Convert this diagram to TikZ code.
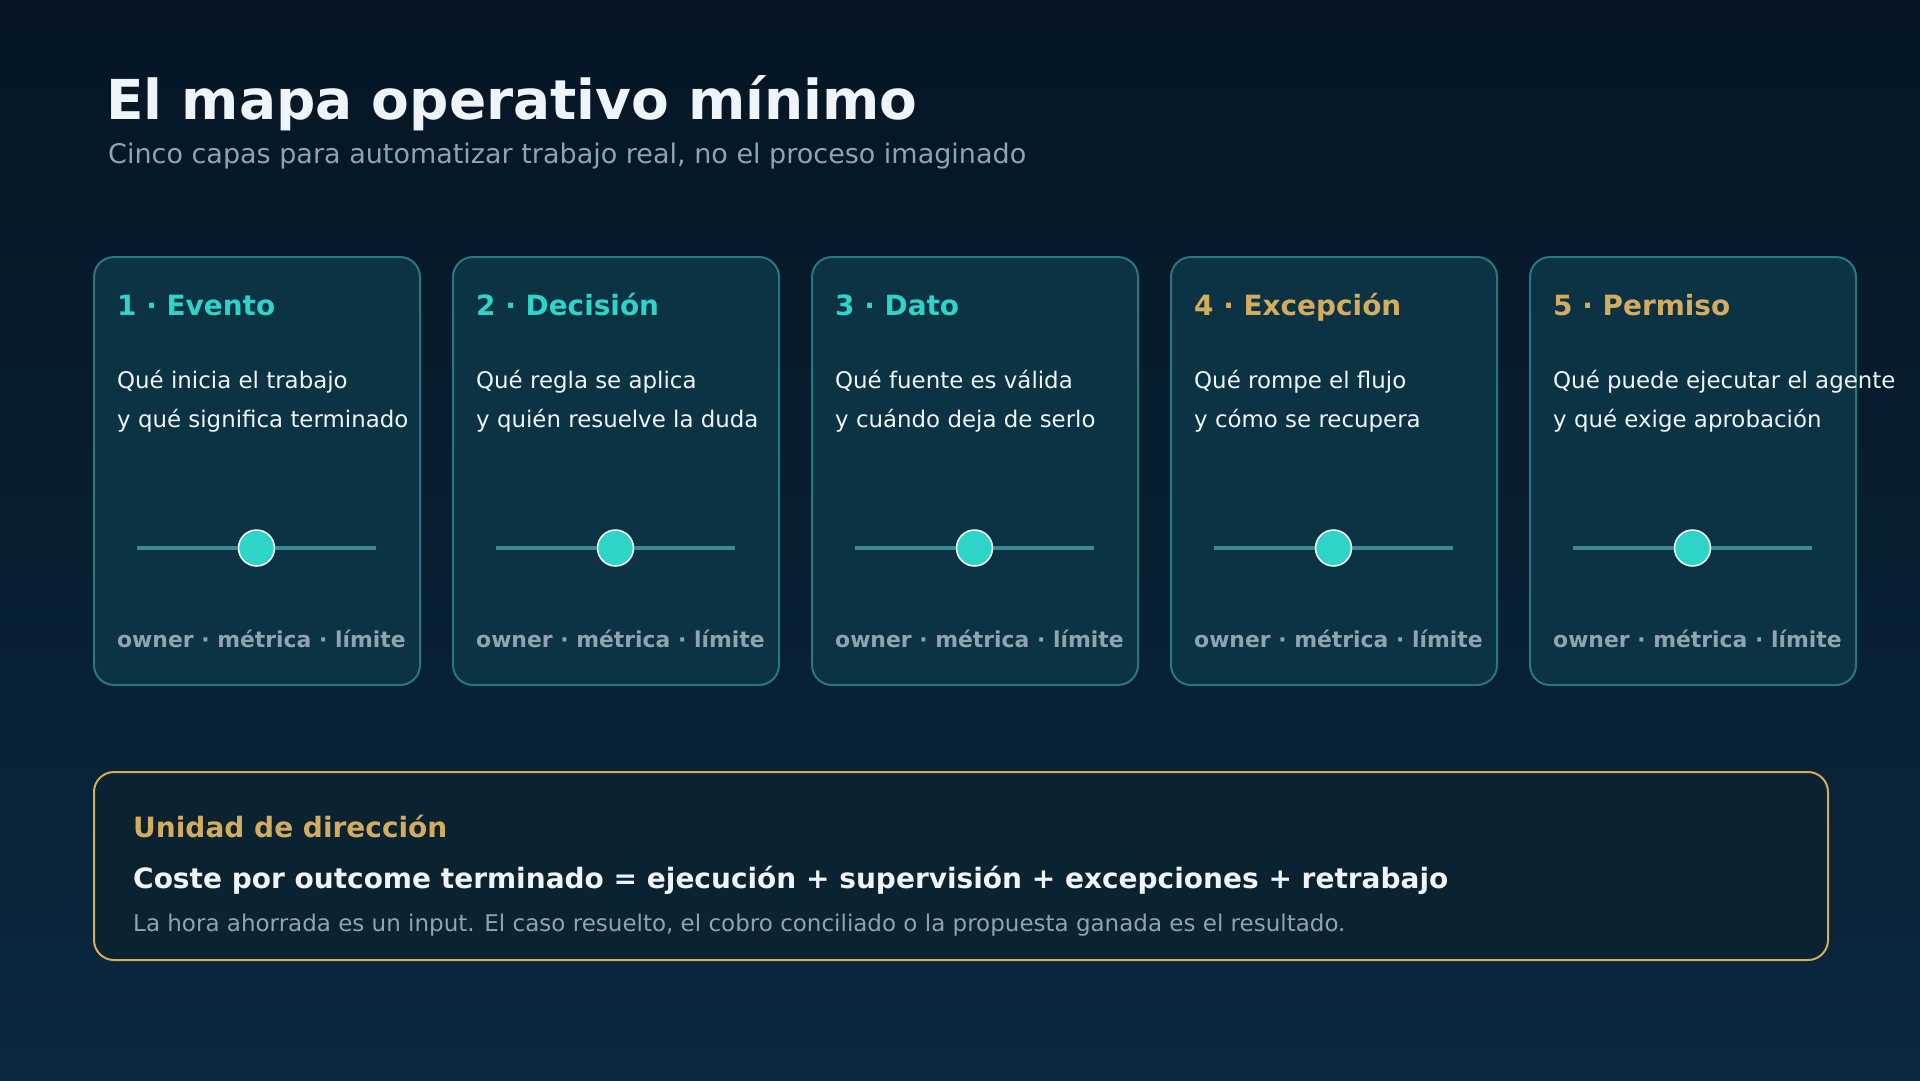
\documentclass[tikz,border=0pt]{standalone}
\usepackage{fontspec}
\setmainfont{DejaVu Sans}
\usetikzlibrary{positioning}
\definecolor{FondoAlto}{HTML}{051524}
\definecolor{FondoBajo}{HTML}{0B283F}
\definecolor{Tarjeta}{HTML}{0C3343}
\definecolor{Borde}{HTML}{277680}
\definecolor{Turquesa}{HTML}{2DD4C7}
\definecolor{Oro}{HTML}{D4AC60}
\definecolor{Blanco}{HTML}{EEF4F7}
\definecolor{Gris}{HTML}{8FA3B1}
\definecolor{Riel}{HTML}{3A8A91}
\definecolor{Caja}{HTML}{0B2231}

\begin{document}
\begin{tikzpicture}[
        x=1pt, y=-1pt,
        card/.style={rectangle, rounded corners=20pt, draw=Borde, line width=2pt, fill=Tarjeta, minimum width=326pt, minimum height=428pt, inner sep=0pt, anchor=north west},
        cardtitle/.style={anchor=base west, inner sep=0pt, font=\fontsize{27.9}{33}\selectfont\bfseries},
        desc/.style={anchor=base west, inner sep=0pt, align=left, text=Blanco, font=\fontsize{22.9}{39}\selectfont},
        tags/.style={anchor=base west, inner sep=0pt, text=Gris, font=\fontsize{21.9}{26}\selectfont\bfseries},
        rail/.style={draw=Riel, line width=4pt},
        knob/.style={circle, fill=Turquesa, draw=white, line width=1.5pt, minimum size=36pt, inner sep=0pt},
        summary/.style={rectangle, rounded corners=20pt, draw=Oro, line width=2pt, fill=Caja, minimum width=1734pt, minimum height=188pt, inner sep=0pt, anchor=north west}
    ]%
        % ================= FONDO Y MARCO =================
        \useasboundingbox (0,0) rectangle (1920,1080);
        \fill[top color=FondoAlto, bottom color=FondoBajo] (0,0) rectangle (1920,1080);
        % ================= CABECERA =================
        \node[anchor=base west, inner sep=0pt, text=Blanco, font=\fontsize{55}{66}\selectfont\bfseries] (title) at (106,119) {El mapa operativo mínimo};
        \node[anchor=base west, inner sep=0pt, text=Gris, font=\fontsize{27}{32}\selectfont] (subtitle) at (108,163) {Cinco capas para automatizar trabajo real, no el proceso imaginado};
        % ================= TARJETAS DE CAPAS (cinco columnas) =================
        % 1. Evento
        \node[card] (c1) at (93,256) {};
        \node[cardtitle, text=Turquesa] (t1) at (117,315) {1 · Evento};
        \node[desc] (d1) at (117,427) {Qué inicia el trabajo\\y qué significa terminado};
        \coordinate (r1a) at (137,548); \coordinate (r1b) at (376,548);
        \draw[rail] (r1a) -- (r1b);
        \node[knob] (k1) at (256.5,548) {};
        \node[tags] (g1) at (117,647) {owner · métrica · límite};
        % 2. Decisión
        \node[card] (c2) at (452,256) {};
        \node[cardtitle, text=Turquesa] (t2) at (476,315) {2 · Decisión};
        \node[desc] (d2) at (476,427) {Qué regla se aplica\\y quién resuelve la duda};
        \coordinate (r2a) at (496,548); \coordinate (r2b) at (735,548);
        \draw[rail] (r2a) -- (r2b);
        \node[knob] (k2) at (615.5,548) {};
        \node[tags] (g2) at (476,647) {owner · métrica · límite};
        % 3. Dato
        \node[card] (c3) at (811,256) {};
        \node[cardtitle, text=Turquesa] (t3) at (835,315) {3 · Dato};
        \node[desc] (d3) at (835,427) {Qué fuente es válida\\y cuándo deja de serlo};
        \coordinate (r3a) at (855,548); \coordinate (r3b) at (1094,548);
        \draw[rail] (r3a) -- (r3b);
        \node[knob] (k3) at (974.5,548) {};
        \node[tags] (g3) at (835,647) {owner · métrica · límite};
        % 4. Excepción
        \node[card] (c4) at (1170,256) {};
        \node[cardtitle, text=Oro] (t4) at (1194,315) {4 · Excepción};
        \node[desc] (d4) at (1194,427) {Qué rompe el flujo\\y cómo se recupera};
        \coordinate (r4a) at (1214,548); \coordinate (r4b) at (1453,548);
        \draw[rail] (r4a) -- (r4b);
        \node[knob] (k4) at (1333.5,548) {};
        \node[tags] (g4) at (1194,647) {owner · métrica · límite};
        % 5. Permiso
        \node[card] (c5) at (1529,256) {};
        \node[cardtitle, text=Oro] (t5) at (1553,315) {5 · Permiso};
        \node[desc] (d5) at (1553,427) {Qué puede ejecutar el agente\\y qué exige aprobación};
        \coordinate (r5a) at (1573,548); \coordinate (r5b) at (1812,548);
        \draw[rail] (r5a) -- (r5b);
        \node[knob] (k5) at (1692.5,548) {};
        \node[tags] (g5) at (1553,647) {owner · métrica · límite};
        % ================= UNIDAD DE DIRECCIÓN (caja inferior) =================
        \node[summary] (unit) at (93,771) {};
        \node[anchor=base west, inner sep=0pt, text=Oro, font=\fontsize{28}{33}\selectfont\bfseries] (unithead) at (133,837) {Unidad de dirección};
        \node[anchor=base west, inner sep=0pt, text=Blanco, font=\fontsize{28}{33}\selectfont\bfseries] (formula) at (133,888) {Coste por outcome terminado = ejecución + supervisión + excepciones + retrabajo};
        \node[anchor=base west, inner sep=0pt, text=Gris, font=\fontsize{23}{28}\selectfont] (note) at (133,931) {La hora ahorrada es un input. El caso resuelto, el cobro conciliado o la propuesta ganada es el resultado.};
    \end{tikzpicture}
\end{document}
